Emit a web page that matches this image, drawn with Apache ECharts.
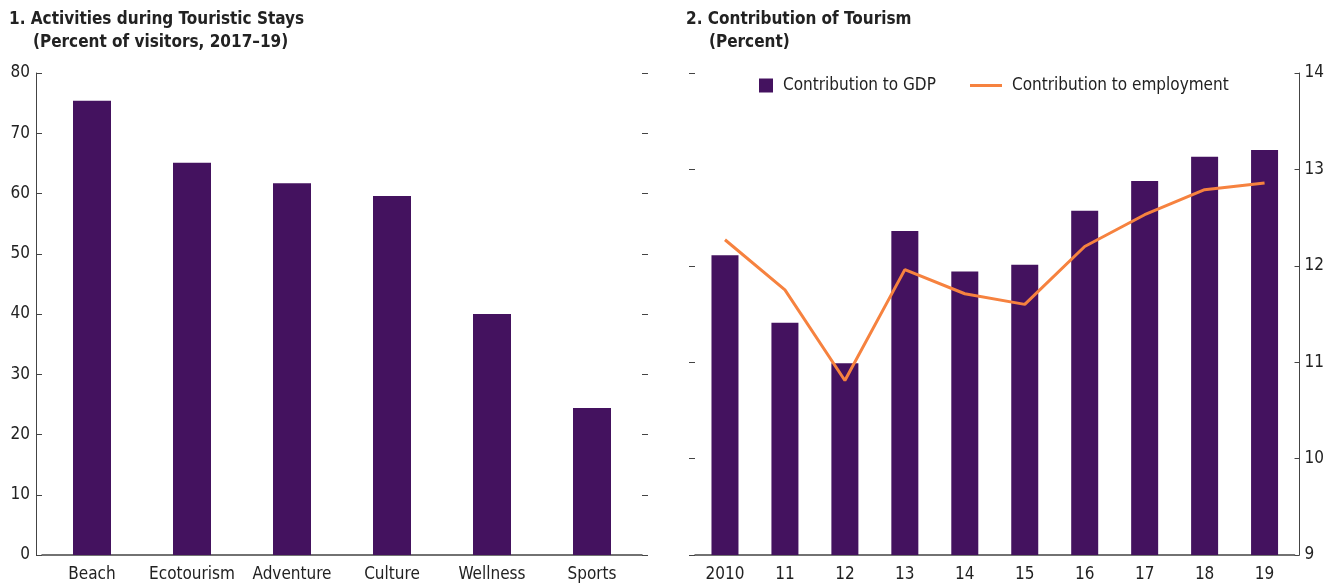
<!DOCTYPE html>
<html>
<head>
    <meta charset="utf-8"/>
    <title>Tourism</title>
    <style>
        html, body { margin: 0; padding: 0; background: #fff; }
        #main { width: 1327px; height: 584px; }
    </style>
</head>
<body>
<div id="main"></div>
<script src="https://cdn.jsdelivr.net/npm/echarts@6/dist/echarts.min.js"></script>
<script type="text/javascript">
    // panel 1
    var activities = ['Beach', 'Ecotourism', 'Adventure', 'Culture', 'Wellness', 'Sports'];
    var visitorShare = [75.4, 65.1, 61.7, 59.6, 40.0, 24.4];

    // panel 2
    var years = ['2010', '11', '12', '13', '14', '15', '16', '17', '18', '19'];
    var gdpShare = [12.11, 11.41, 10.99, 12.36, 11.94, 12.01, 12.57, 12.88, 13.13, 13.20];
    var employmentShare = [12.27, 11.75, 10.81, 11.96, 11.71, 11.60, 12.20, 12.53, 12.79, 12.86];

    var FONT = '"Liberation Sans Narrow", "DejaVu Sans Condensed", "Liberation Sans", sans-serif';
    var BAR = '#44125f';
    var LINE = '#f6823f';
    var AXIS = '#444';

    var labelStyle = { fontFamily: FONT, fontSize: 17, color: '#222' };
    var titleStyle = { fontFamily: FONT, fontSize: 17, fontWeight: 'bold', color: '#222' };
    var legendText = Object.assign({ padding: [0, 0, 0, 5] }, labelStyle);

    var option = {
        animation: false,
        textStyle: { fontFamily: FONT },
        title: [
            { text: '1. Activities during Touristic Stays', left: 9, top: 11, padding: 0, textStyle: titleStyle },
            { text: '(Percent of visitors, 2017\u201319)', left: 33, top: 34, padding: 0, textStyle: titleStyle },
            { text: '2. Contribution of Tourism', left: 686, top: 11, padding: 0, textStyle: titleStyle },
            { text: '(Percent)', left: 709, top: 34, padding: 0, textStyle: titleStyle }
        ],
        legend: [
            {
                data: [{ name: 'Contribution to GDP', icon: 'rect' }],
                left: 759, top: 77, padding: 0,
                itemWidth: 14, itemHeight: 14, itemGap: 10,
                textStyle: legendText
            },
            {
                data: [{ name: 'Contribution to employment', icon: 'rect' }],
                left: 970, top: 77, padding: 0,
                itemWidth: 32, itemHeight: 3,
                textStyle: legendText
            }
        ],
        grid: [
            { left: 42, right: 685, top: 73, bottom: 29 },
            { left: 695, right: 32, top: 73, bottom: 29 }
        ],
        xAxis: [
            {
                type: 'category', gridIndex: 0, data: activities,
                axisLine: { lineStyle: { color: AXIS, width: 1.5 } },
                axisTick: { inside: true, length: 7, lineStyle: { color: AXIS } },
                axisLabel: Object.assign({ margin: 11, interval: 0 }, labelStyle)
            },
            {
                type: 'category', gridIndex: 1, data: years,
                axisLine: { lineStyle: { color: AXIS, width: 1.5 } },
                axisTick: { inside: true, length: 7, lineStyle: { color: AXIS } },
                axisLabel: Object.assign({ margin: 11, interval: 0 }, labelStyle)
            }
        ],
        yAxis: [
            {
                type: 'value', gridIndex: 0, min: 0, max: 80, interval: 10,
                position: 'left', offset: 6,
                splitLine: { show: false },
                axisLine: { show: true, lineStyle: { color: AXIS } },
                axisTick: { show: true, inside: true, length: 6, lineStyle: { color: AXIS } },
                axisLabel: Object.assign({ margin: 6 }, labelStyle)
            },
            {
                type: 'value', gridIndex: 0, min: 0, max: 80, interval: 10,
                position: 'right',
                splitLine: { show: false },
                axisLine: { show: false },
                axisTick: { show: true, length: 6, lineStyle: { color: AXIS } },
                axisLabel: { show: false }
            },
            {
                type: 'value', gridIndex: 1, min: 9, max: 14, interval: 1,
                position: 'right', offset: 5,
                splitLine: { show: false },
                axisLine: { show: true, lineStyle: { color: AXIS } },
                axisTick: { show: true, inside: true, length: 5, lineStyle: { color: AXIS } },
                axisLabel: Object.assign({ margin: 5 }, labelStyle)
            },
            {
                type: 'value', gridIndex: 1, min: 9, max: 14, interval: 1,
                position: 'left',
                splitLine: { show: false },
                axisLine: { show: false },
                axisTick: { show: true, length: 6, lineStyle: { color: AXIS } },
                axisLabel: { show: false }
            }
        ],
        series: [
            {
                name: 'Activities', type: 'bar', xAxisIndex: 0, yAxisIndex: 0,
                data: visitorShare, barWidth: 38,
                itemStyle: { color: BAR }
            },
            {
                name: 'Contribution to GDP', type: 'bar', xAxisIndex: 1, yAxisIndex: 2,
                data: gdpShare, barWidth: 27,
                itemStyle: { color: BAR }
            },
            {
                name: 'Contribution to employment', type: 'line', xAxisIndex: 1, yAxisIndex: 2,
                data: employmentShare, symbol: 'none',
                lineStyle: { color: LINE, width: 3 },
                itemStyle: { color: LINE }
            }
        ]
    };

    var chart = echarts.init(document.getElementById('main'));
    chart.setOption(option);
</script>
</body>
</html>
